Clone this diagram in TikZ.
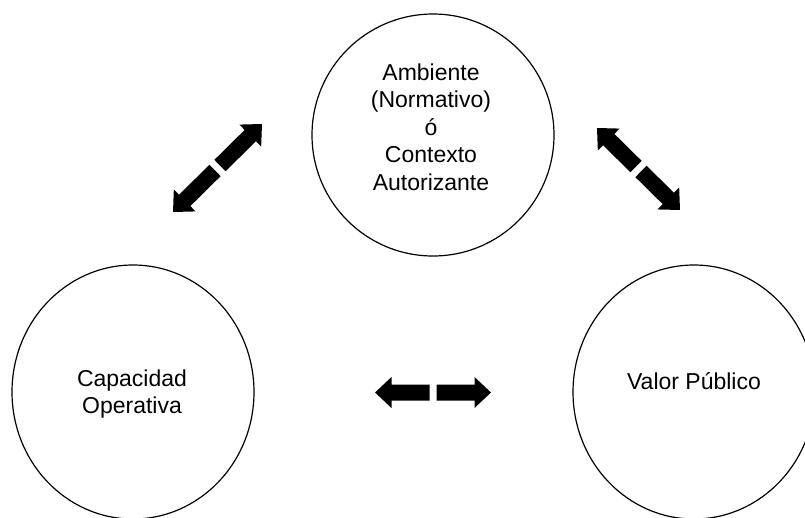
\documentclass[tikz,border=0pt]{standalone}
\usepackage{fontspec}
\setmainfont{Liberation Sans}
\usetikzlibrary{calc,shapes.geometric}

% One half of a split double arrow: a solid block arrow from #1 (gap side) to its tip #2
\newcommand\blockhalf[2]{%
  \coordinate (hb) at ($(#2)!16.5pt!(#1)$);
  \fill ($(#1)!8pt!90:(#2)$) -- ($(hb)!8pt!90:(#2)$) -- ($(hb)!15.5pt!90:(#2)$)
    -- (#2) -- ($(hb)!15.5pt!-90:(#2)$) -- ($(hb)!8pt!-90:(#2)$)
    -- ($(#1)!8pt!-90:(#2)$) -- cycle;}

% A double arrow split in the middle, between tips #1 and #2; #3 names its gap
\newcommand\splitarrow[3]{%
  \coordinate (#3) at ($(#1)!0.5!(#2)$);
  \coordinate (#3a) at ($(#3)!3.5pt!(#1)$);
  \coordinate (#3b) at ($(#3)!3.5pt!(#2)$);
  \blockhalf{#3a}{#1}
  \blockhalf{#3b}{#2}}

\begin{document}
\begin{tikzpicture}[x=1pt,y=-1pt,
  bubble/.style={ellipse,draw,line width=1.2pt,minimum width=242pt,minimum height=242pt,inner sep=0pt},
  tall/.style={minimum height=254pt},
  caption/.style={align=center,inner sep=0pt,font=\fontsize{23}{27.6}\selectfont},
]
\useasboundingbox (0,0) rectangle (805,517);

% the three circles
\node[bubble] (amb) at (433,135) {};
\node[bubble,tall] (cap) at (133,392) {};
\node[bubble,tall] (val) at (694,392) {};

% their labels
\node[caption] (ambtext) at (431,127) {Ambiente\\(Normativo)\\ó\\Contexto\\Autorizante};
\node[caption] (captext) at (132,394) {Capacidad\\Operativa};
\node[caption] (valtext) at (694,381) {Valor Público};

% tips of the split double arrows
\coordinate (l1) at (173,212);
\coordinate (l2) at (262,124);
\coordinate (r1) at (597,128);
\coordinate (r2) at (680,210);
\coordinate (h1) at (375,392.5);
\coordinate (h2) at (491,392.5);

\splitarrow{l1}{l2}{gl}
\splitarrow{r1}{r2}{gr}
\splitarrow{h1}{h2}{gh}
\end{tikzpicture}
\end{document}
